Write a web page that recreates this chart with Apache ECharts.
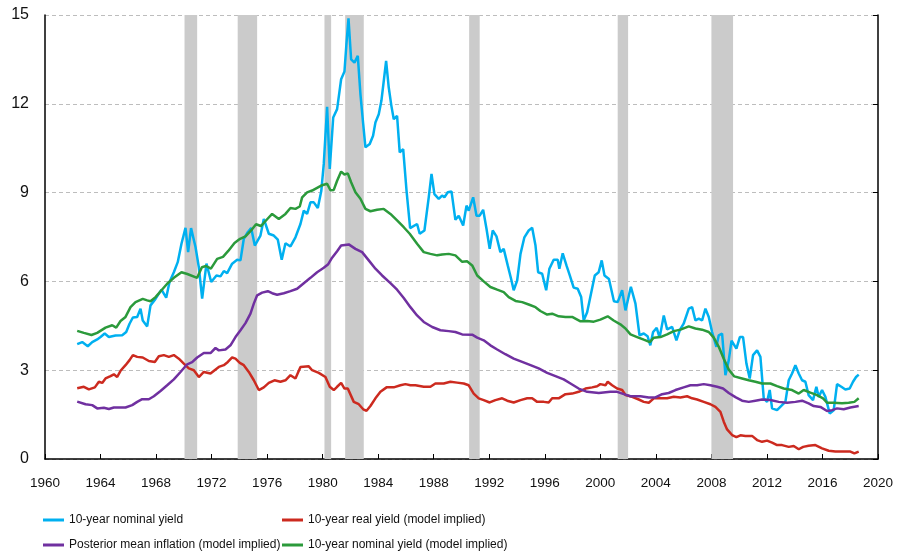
<!DOCTYPE html>
<html>
<head>
<meta charset="utf-8">
<title>10-year yields</title>
<script src="https://cdn.jsdelivr.net/npm/echarts@6/dist/echarts.min.js"></script>
<style>
    html, body { margin: 0; padding: 0; background: #fff; }
    #chart { width: 903px; height: 558px; }
</style>
</head>
<body>
<div id="chart"></div>
<script>
// series names
var names = ['10-year nominal yield', '10-year real yield (model implied)',
    'Posterior mean inflation (model implied)', '10-year nominal yield (model implied)'];

// recessions [start, end]
var recessions = [[1970.05, 1970.96], [1973.88, 1975.28], [1980.13, 1980.61], [1981.62, 1982.96],
    [1990.55, 1991.31], [2001.25, 2002.0], [2008.0, 2009.56]];

// 10-year nominal yield [year, %]
var nominal = [[1962.32,3.88],[1962.68,3.95],[1963.08,3.81],[1963.4,3.95],[1963.76,4.04],[1964.0,4.12],[1964.3,4.24],[1964.6,4.12],[1965.08,4.17],[1965.56,4.18],[1965.85,4.29],[1966.09,4.57],[1966.33,4.78],[1966.64,4.8],[1966.88,5.08],[1967.04,4.68],[1967.36,4.48],[1967.6,5.19],[1967.96,5.41],[1968.39,5.72],[1968.73,5.45],[1968.97,5.98],[1969.28,6.31],[1969.56,6.65],[1969.83,7.27],[1970.12,7.81],[1970.31,6.99],[1970.52,7.8],[1970.84,7.16],[1971.08,6.48],[1971.32,5.42],[1971.63,6.6],[1971.97,5.98],[1972.35,6.2],[1972.64,6.17],[1972.88,6.35],[1973.12,6.28],[1973.48,6.6],[1973.84,6.73],[1974.08,6.71],[1974.32,7.44],[1974.6,7.66],[1974.85,7.8],[1975.11,7.21],[1975.52,7.55],[1975.76,8.11],[1976.12,7.61],[1976.48,7.55],[1976.77,7.41],[1977.05,6.73],[1977.32,7.29],[1977.68,7.18],[1978.04,7.49],[1978.4,7.94],[1978.64,8.39],[1978.88,8.28],[1979.12,8.67],[1979.36,8.67],[1979.65,8.48],[1979.9,9.05],[1980.08,9.97],[1980.32,11.9],[1980.51,9.8],[1980.76,11.54],[1981.04,11.82],[1981.33,12.83],[1981.57,13.09],[1981.71,14.01],[1981.86,14.89],[1982.05,13.5],[1982.29,13.39],[1982.53,13.62],[1982.72,12.33],[1982.92,11.31],[1983.08,10.53],[1983.39,10.64],[1983.63,10.92],[1983.8,11.37],[1984.04,11.65],[1984.23,12.1],[1984.4,12.77],[1984.57,13.45],[1984.76,12.55],[1984.95,11.93],[1985.12,11.48],[1985.36,11.59],[1985.55,10.36],[1985.8,10.47],[1986.04,9.07],[1986.3,7.8],[1986.8,7.94],[1986.99,7.61],[1987.33,7.72],[1987.64,8.84],[1987.84,9.63],[1988.05,8.95],[1988.36,8.79],[1988.6,8.9],[1988.77,8.84],[1989.01,9.01],[1989.28,9.04],[1989.56,8.08],[1989.8,8.22],[1990.12,7.89],[1990.36,8.56],[1990.52,8.39],[1990.84,8.84],[1991.08,8.22],[1991.31,8.22],[1991.56,8.42],[1991.8,7.78],[1992.03,7.1],[1992.25,7.72],[1992.52,7.52],[1992.8,6.99],[1993.04,7.1],[1993.33,6.54],[1993.57,6.09],[1993.76,5.7],[1994.01,6.03],[1994.25,6.93],[1994.53,7.49],[1994.84,7.72],[1995.09,7.81],[1995.33,7.21],[1995.52,6.31],[1995.81,6.26],[1996.1,5.7],[1996.33,6.43],[1996.64,6.73],[1996.93,6.73],[1997.05,6.43],[1997.29,6.95],[1997.56,6.54],[1997.8,6.2],[1998.08,5.79],[1998.37,5.75],[1998.62,5.47],[1998.8,4.68],[1999.05,4.96],[1999.29,5.5],[1999.6,6.2],[1999.88,6.31],[2000.1,6.71],[2000.3,6.2],[2000.62,6.08],[2000.98,5.33],[2001.25,5.3],[2001.57,5.7],[2001.81,5.02],[2002.2,5.82],[2002.53,5.25],[2002.82,4.18],[2003.13,4.24],[2003.4,4.15],[2003.6,3.84],[2003.8,4.29],[2004.06,4.43],[2004.27,4.1],[2004.57,4.85],[2004.81,4.38],[2005.17,4.46],[2005.48,4.01],[2005.72,4.35],[2006.0,4.57],[2006.37,5.08],[2006.61,5.13],[2006.85,4.68],[2007.09,4.74],[2007.33,4.68],[2007.57,5.08],[2007.81,4.8],[2008.05,4.29],[2008.36,3.79],[2008.53,4.18],[2008.77,4.24],[2009.01,2.83],[2009.25,3.34],[2009.45,4.0],[2009.8,3.73],[2010.05,4.12],[2010.28,4.12],[2010.52,3.23],[2010.76,2.72],[2011.0,3.51],[2011.29,3.67],[2011.53,3.45],[2011.77,2.05],[2012.01,1.93],[2012.2,2.33],[2012.37,1.71],[2012.73,1.65],[2013.09,1.82],[2013.33,1.93],[2013.57,2.66],[2013.81,2.89],[2014.05,3.17],[2014.29,2.89],[2014.53,2.66],[2014.77,2.61],[2015.0,2.16],[2015.32,1.99],[2015.56,2.44],[2015.73,2.1],[2015.97,2.33],[2016.21,2.1],[2016.52,1.54],[2016.81,1.65],[2017.05,2.53],[2017.36,2.44],[2017.65,2.35],[2017.96,2.38],[2018.2,2.61],[2018.42,2.77],[2018.61,2.85]];

// 10-year real yield (model implied)
var real = [[1962.32,2.39],[1962.8,2.44],[1963.16,2.35],[1963.59,2.42],[1963.88,2.61],[1964.12,2.57],[1964.36,2.72],[1964.72,2.8],[1964.96,2.86],[1965.2,2.77],[1965.44,2.98],[1965.8,3.17],[1966.09,3.34],[1966.33,3.51],[1966.64,3.45],[1967.04,3.43],[1967.48,3.31],[1967.91,3.28],[1968.2,3.47],[1968.56,3.51],[1968.92,3.45],[1969.28,3.51],[1969.64,3.39],[1970.0,3.22],[1970.36,3.06],[1970.72,3.0],[1971.08,2.77],[1971.44,2.94],[1971.92,2.89],[1972.52,3.11],[1972.88,3.17],[1973.17,3.28],[1973.48,3.43],[1973.72,3.39],[1974.03,3.25],[1974.32,3.17],[1974.68,2.94],[1975.04,2.66],[1975.4,2.33],[1975.76,2.42],[1976.12,2.57],[1976.53,2.66],[1976.96,2.61],[1977.32,2.66],[1977.68,2.83],[1978.04,2.72],[1978.4,3.11],[1979.0,3.13],[1979.24,3.0],[1979.72,2.91],[1980.2,2.77],[1980.51,2.44],[1980.8,2.33],[1981.04,2.44],[1981.33,2.57],[1981.57,2.38],[1981.81,2.38],[1982.24,1.93],[1982.6,1.85],[1982.92,1.68],[1983.16,1.63],[1983.44,1.79],[1983.8,2.05],[1984.16,2.27],[1984.6,2.42],[1985.12,2.42],[1985.6,2.49],[1985.96,2.53],[1986.32,2.49],[1986.68,2.49],[1987.28,2.44],[1987.76,2.44],[1988.12,2.55],[1988.72,2.55],[1989.2,2.61],[1989.68,2.58],[1990.16,2.55],[1990.52,2.49],[1990.88,2.21],[1991.24,2.05],[1991.6,1.99],[1992.03,1.91],[1992.44,1.99],[1992.93,2.05],[1993.29,1.97],[1993.76,1.91],[1994.25,1.99],[1994.73,2.05],[1995.09,2.05],[1995.45,1.93],[1995.93,1.93],[1996.28,1.91],[1996.53,2.05],[1997.0,2.05],[1997.49,2.19],[1997.97,2.21],[1998.44,2.27],[1998.93,2.38],[1999.41,2.42],[1999.77,2.46],[2000.0,2.53],[2000.37,2.49],[2000.53,2.61],[2000.85,2.49],[2001.21,2.38],[2001.57,2.33],[2001.81,2.16],[2002.29,2.1],[2002.77,2.01],[2003.13,1.93],[2003.49,1.9],[2003.85,2.05],[2004.33,2.05],[2004.81,2.05],[2005.29,2.1],[2005.77,2.08],[2006.25,2.12],[2006.61,2.05],[2006.97,2.01],[2007.45,1.93],[2007.93,1.85],[2008.29,1.76],[2008.65,1.59],[2008.89,1.26],[2009.13,1.0],[2009.49,0.81],[2009.8,0.74],[2010.09,0.8],[2010.45,0.78],[2010.93,0.78],[2011.29,0.64],[2011.65,0.58],[2012.01,0.62],[2012.37,0.55],[2012.73,0.47],[2013.09,0.47],[2013.57,0.41],[2013.93,0.44],[2014.29,0.33],[2014.61,0.41],[2015.0,0.45],[2015.49,0.47],[2015.97,0.36],[2016.45,0.28],[2016.93,0.25],[2017.53,0.25],[2018.01,0.25],[2018.3,0.19],[2018.61,0.25]];

// posterior mean inflation (model implied)
var inflation = [[1962.32,1.94],[1962.92,1.85],[1963.4,1.82],[1963.76,1.71],[1964.24,1.73],[1964.6,1.69],[1964.96,1.74],[1965.8,1.74],[1966.28,1.82],[1966.64,1.93],[1967.0,2.02],[1967.48,2.02],[1967.84,2.12],[1968.32,2.3],[1968.8,2.49],[1969.28,2.69],[1969.76,2.94],[1970.24,3.2],[1970.6,3.27],[1970.96,3.43],[1971.44,3.58],[1971.92,3.58],[1972.28,3.75],[1972.52,3.67],[1973.0,3.7],[1973.36,3.84],[1973.72,4.12],[1974.08,4.35],[1974.44,4.59],[1974.8,4.91],[1975.04,5.25],[1975.28,5.53],[1975.64,5.62],[1976.05,5.67],[1976.36,5.6],[1976.72,5.55],[1977.2,5.6],[1977.68,5.67],[1978.16,5.75],[1978.64,5.94],[1979.12,6.12],[1979.6,6.31],[1980.08,6.46],[1980.4,6.58],[1980.68,6.8],[1981.04,7.02],[1981.33,7.21],[1981.88,7.25],[1982.36,7.1],[1982.84,6.99],[1983.32,6.71],[1983.8,6.43],[1984.28,6.2],[1984.88,5.94],[1985.36,5.72],[1985.84,5.44],[1986.32,5.13],[1986.8,4.85],[1987.28,4.63],[1987.89,4.46],[1988.48,4.35],[1989.08,4.32],[1989.56,4.29],[1990.05,4.21],[1990.77,4.2],[1991.13,4.1],[1991.6,4.01],[1992.08,3.84],[1992.57,3.7],[1993.16,3.54],[1993.76,3.39],[1994.37,3.28],[1994.97,3.17],[1995.56,3.06],[1996.17,2.91],[1996.77,2.8],[1997.36,2.69],[1997.85,2.55],[1998.44,2.38],[1999.05,2.27],[1999.89,2.23],[2000.72,2.27],[2001.21,2.27],[2001.69,2.19],[2002.17,2.12],[2002.89,2.12],[2003.49,2.08],[2003.97,2.08],[2004.45,2.19],[2004.92,2.23],[2005.41,2.33],[2006.0,2.42],[2006.49,2.49],[2006.97,2.49],[2007.45,2.53],[2007.93,2.49],[2008.41,2.44],[2008.84,2.38],[2009.25,2.23],[2009.73,2.09],[2010.21,1.97],[2010.69,1.93],[2011.17,1.97],[2011.65,2.01],[2012.25,1.99],[2012.85,1.93],[2013.45,1.9],[2014.05,1.93],[2014.53,1.97],[2015.0,1.88],[2015.37,1.79],[2015.85,1.76],[2016.33,1.62],[2016.69,1.65],[2017.05,1.71],[2017.53,1.68],[2018.01,1.74],[2018.61,1.79]];

// 10-year nominal yield (model implied)
var modelNominal = [[1962.32,4.33],[1962.8,4.26],[1963.35,4.19],[1963.76,4.26],[1964.36,4.44],[1964.84,4.52],[1965.13,4.44],[1965.44,4.66],[1965.8,4.8],[1966.16,5.13],[1966.52,5.3],[1967.04,5.41],[1967.36,5.36],[1967.6,5.33],[1967.96,5.47],[1968.39,5.7],[1968.8,5.92],[1969.28,6.12],[1969.83,6.31],[1970.25,6.25],[1970.96,6.12],[1971.3,6.48],[1971.6,6.52],[1971.95,6.43],[1972.4,6.76],[1972.82,6.83],[1973.2,7.03],[1973.65,7.3],[1974.05,7.44],[1974.44,7.52],[1974.9,7.75],[1975.2,7.93],[1975.55,7.87],[1976.0,8.1],[1976.36,8.28],[1976.84,8.11],[1977.32,8.28],[1977.68,8.48],[1978.04,8.45],[1978.35,8.53],[1978.52,8.84],[1978.88,9.01],[1979.24,9.07],[1979.6,9.16],[1979.96,9.25],[1980.32,9.3],[1980.56,9.08],[1980.8,9.09],[1981.04,9.4],[1981.33,9.71],[1981.57,9.61],[1981.81,9.65],[1982.05,9.35],[1982.36,9.01],[1982.72,8.79],[1983.08,8.45],[1983.44,8.37],[1983.92,8.42],[1984.4,8.45],[1984.88,8.28],[1985.36,8.06],[1985.84,7.83],[1986.27,7.61],[1986.8,7.27],[1987.28,6.99],[1987.76,6.93],[1988.25,6.88],[1988.6,6.91],[1989.08,6.93],[1989.56,6.88],[1990.05,6.66],[1990.4,6.68],[1990.77,6.54],[1991.13,6.2],[1991.6,6.0],[1992.08,5.81],[1992.57,5.72],[1993.04,5.64],[1993.4,5.47],[1993.89,5.34],[1994.37,5.3],[1994.84,5.22],[1995.33,5.13],[1995.68,5.0],[1996.17,4.88],[1996.53,4.91],[1997.0,4.82],[1997.49,4.8],[1997.97,4.8],[1998.57,4.65],[1999.05,4.66],[1999.53,4.64],[2000.0,4.71],[2000.13,4.74],[2000.53,4.82],[2000.96,4.68],[2001.44,4.55],[2001.81,4.41],[2002.17,4.21],[2002.65,4.12],[2003.13,4.03],[2003.56,3.95],[2003.85,4.1],[2004.33,4.12],[2004.81,4.21],[2005.29,4.32],[2005.77,4.37],[2006.37,4.48],[2006.85,4.41],[2007.33,4.37],[2007.81,4.29],[2008.17,4.1],[2008.53,3.79],[2008.89,3.39],[2009.25,3.02],[2009.65,2.79],[2010.21,2.72],[2010.69,2.66],[2011.17,2.61],[2011.65,2.55],[2012.25,2.55],[2012.73,2.46],[2013.21,2.38],[2013.81,2.33],[2014.29,2.21],[2014.65,2.33],[2015.13,2.24],[2015.61,2.16],[2016.04,2.05],[2016.33,1.9],[2016.81,1.9],[2017.41,1.88],[2017.89,1.9],[2018.3,1.93],[2018.61,2.05]];

var colors = ['#00b0f0', '#cc2a1f', '#7030a0', '#2b9a3b'];
var font = '"Liberation Sans", Arial, sans-serif';

var myChart = echarts.init(document.getElementById('chart'));

function lineSeries(name, data, color) {
    return {
        name: name,
        type: 'line',
        data: data,
        symbol: 'none',
        z: 3,
        lineStyle: { color: color, width: 2.5 },
        itemStyle: { color: color }
    };
}

// one legend column, two rows
function legendCol(left, items) {
    return {
        left: left, top: 514,
        orient: 'vertical',
        padding: 0,
        itemGap: 13,
        icon: 'rect',
        itemWidth: 21, itemHeight: 3,
        data: items,
        textStyle: { fontFamily: font, fontSize: 12, color: '#111' }
    };
}

var option = {
    animation: false,
    grid: { left: 45, right: 25, top: 15, bottom: 99 },
    legend: [
        legendCol(43, [names[0], names[2]]),
        legendCol(282, [names[1], names[3]])
    ],
    xAxis: {
        type: 'value',
        min: 1960, max: 2020, interval: 4,
        axisLine: { lineStyle: { color: '#000', width: 1.5 } },
        axisTick: { inside: true, length: 5, lineStyle: { color: '#000' } },
        axisLabel: {
            margin: 17, fontFamily: font, fontSize: 13.5, color: '#111',
            formatter: function(v) { return String(v); }
        },
        splitLine: { show: false }
    },
    yAxis: [
        {
            type: 'value',
            min: 0, max: 15, interval: 3,
            axisLine: { show: true, lineStyle: { color: '#000', width: 1.5 } },
            axisTick: { show: false },
            axisLabel: { margin: 16, fontFamily: font, fontSize: 16, color: '#111' },
            splitLine: { lineStyle: { color: '#bdbdbd', type: [4, 3], width: 1 } }
        },
        {
            type: 'value', position: 'right',
            min: 0, max: 15, interval: 3,
            axisLine: { show: true, lineStyle: { color: '#000', width: 1.5 } },
            axisTick: { show: true, inside: true, length: 5, lineStyle: { color: '#000' } },
            axisLabel: { show: false },
            splitLine: { show: false }
        }
    ],
    series: [
        {
            name: 'recessions',
            type: 'line',
            data: [],
            z: 1,
            silent: true,
            markArea: {
                silent: true,
                itemStyle: { color: '#cbcbcb' },
                data: recessions.map(function(r) {
                    return [{ xAxis: r[0] }, { xAxis: r[1] }];
                })
            }
        },
        lineSeries(names[0], nominal, colors[0]),
        lineSeries(names[1], real, colors[1]),
        lineSeries(names[2], inflation, colors[2]),
        lineSeries(names[3], modelNominal, colors[3])
    ]
};
myChart.setOption(option);
</script>
</body>
</html>
